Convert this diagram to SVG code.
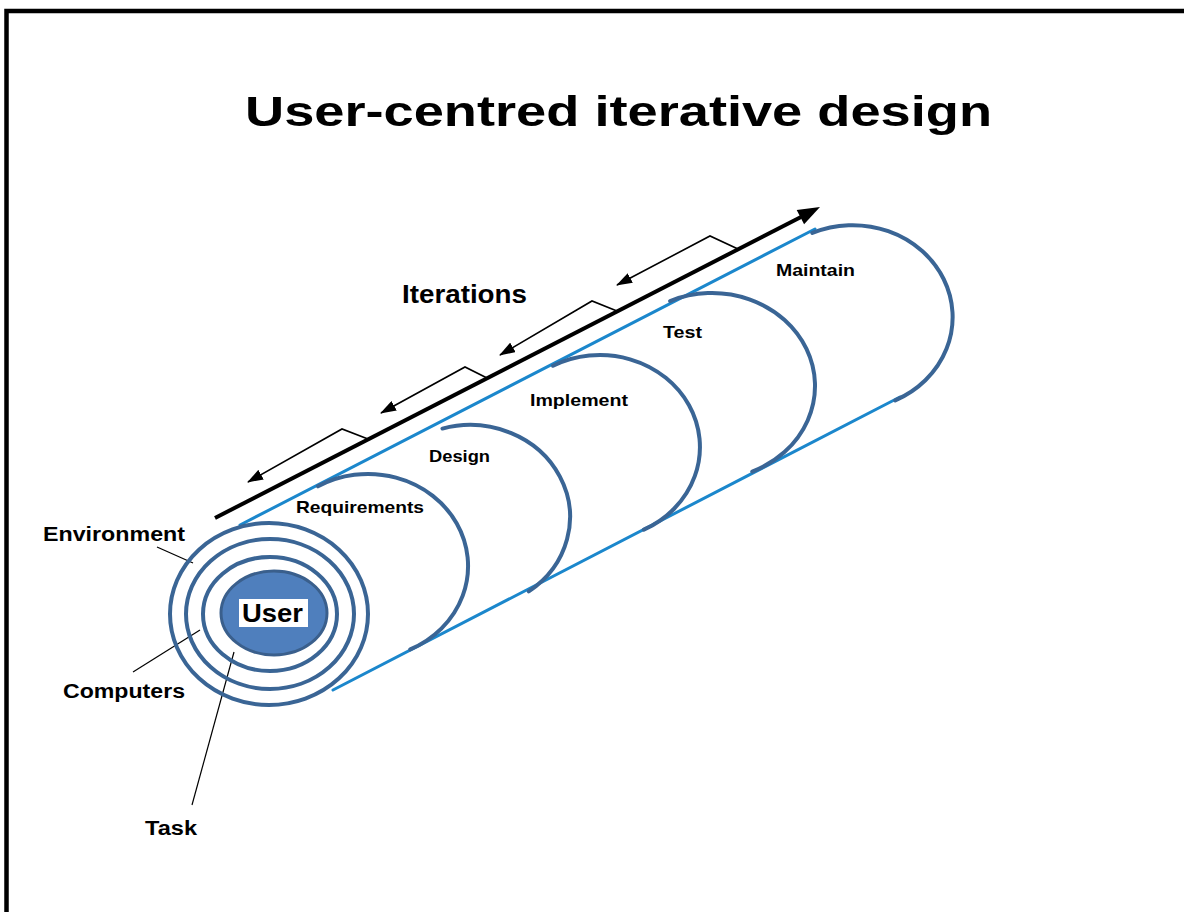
<svg xmlns="http://www.w3.org/2000/svg" width="1184" height="912" viewBox="0 0 1184 912">
  <defs>
    <style>
      .txt { font-family: "Liberation Sans", Arial, sans-serif; font-weight: bold; fill: #000; }
      .ring { fill: none; stroke: #3a6595; stroke-width: 4; }
      .arc { fill: none; stroke: #3a6595; stroke-width: 4; stroke-linecap: round; }
      .edge { stroke: #1b87cc; stroke-width: 3; fill: none; stroke-linecap: round; }
      .leader { stroke: #000; stroke-width: 1.2; fill: none; }
      .iter { stroke: #000; stroke-width: 1.6; fill: none; stroke-linejoin: miter; }
    </style>
    <marker id="smallHead" markerUnits="userSpaceOnUse" viewBox="0 0 16 11" refX="15" refY="5.5" markerWidth="16" markerHeight="11" orient="auto">
      <path d="M0,0 L16,5.5 L0,11 Z" fill="#000"/>
    </marker>
  </defs>

  <rect width="1184" height="912" fill="#fff"/>
  <!-- slide frame (right and bottom edges fall outside the canvas) -->
  <rect x="6.5" y="11" width="1200" height="1000" fill="none" stroke="#000" stroke-width="4.5"/>

  <text class="txt" x="245" y="126" font-size="43" textLength="747" lengthAdjust="spacingAndGlyphs">User-centred iterative design</text>

  <g id="connectors">
    <!-- main iterations axis -->
    <line x1="215" y1="518" x2="801" y2="217" stroke="#000" stroke-width="4"/>
    <polygon points="820,207 804.1,224.2 796.7,210" fill="#000"/>
    <!-- feedback arrows -->
    <path class="iter" d="M368,439 L342,429 L248,482" marker-end="url(#smallHead)"/>
    <path class="iter" d="M487,378 L465,367 L381,413" marker-end="url(#smallHead)"/>
    <path class="iter" d="M617,311 L592,301 L500,355" marker-end="url(#smallHead)"/>
    <path class="iter" d="M738,249 L710,236 L617,285" marker-end="url(#smallHead)"/>
    <!-- label leaders -->
    <line class="leader" x1="157" y1="547" x2="193" y2="563"/>
    <line class="leader" x1="133" y1="672" x2="200" y2="630"/>
    <line class="leader" x1="192" y1="805" x2="234" y2="652"/>
  </g>

  <g id="cylinder">
    <line class="edge" x1="240" y1="525" x2="815" y2="229"/>
    <line class="edge" x1="333" y1="690" x2="900" y2="397"/>
  </g>

  <g id="phase-requirements">
    <path class="arc" d="M318,486.33 A100,92 0 1 1 410.26,649.38"/>
    <text class="txt" x="296" y="513" font-size="17" textLength="128" lengthAdjust="spacingAndGlyphs">Requirements</text>
  </g>
  <g id="phase-design">
    <path class="arc" d="M442.44,428.56 A100,92 0 0 1 528.78,591.43"/>
    <text class="txt" x="429" y="462" font-size="17" textLength="61" lengthAdjust="spacingAndGlyphs">Design</text>
  </g>
  <g id="phase-implement">
    <path class="arc" d="M553.05,365.77 A100,92 0 1 1 643.84,529.69"/>
    <text class="txt" x="530" y="406" font-size="17" textLength="98" lengthAdjust="spacingAndGlyphs">Implement</text>
  </g>
  <g id="phase-test">
    <path class="arc" d="M670.11,301.04 A103,93 0 1 1 752.24,471.61"/>
    <text class="txt" x="663" y="338" font-size="17" textLength="39" lengthAdjust="spacingAndGlyphs">Test</text>
  </g>
  <g id="phase-maintain">
    <path class="arc" d="M812.33,232.96 A100,92 0 0 1 895.26,400.38"/>
    <text class="txt" x="776" y="276" font-size="17" textLength="79" lengthAdjust="spacingAndGlyphs">Maintain</text>
  </g>

  <g id="environment">
    <ellipse class="ring" cx="269" cy="614" rx="99" ry="91"/>
    <text class="txt" x="43" y="541" font-size="20" textLength="142" lengthAdjust="spacingAndGlyphs">Environment</text>
  </g>
  <g id="computers">
    <ellipse class="ring" cx="270" cy="614" rx="84" ry="75"/>
    <text class="txt" x="63" y="698" font-size="20" textLength="122" lengthAdjust="spacingAndGlyphs">Computers</text>
  </g>
  <g id="task">
    <ellipse class="ring" cx="270" cy="614" rx="67" ry="57"/>
    <text class="txt" x="145" y="835" font-size="20" textLength="52" lengthAdjust="spacingAndGlyphs">Task</text>
  </g>
  <g id="user">
    <ellipse cx="274" cy="613" rx="53" ry="42" fill="#4f7fbd" stroke="#3a5f8c" stroke-width="3"/>
    <rect x="239" y="599" width="69" height="28" fill="#fff"/>
    <text class="txt" x="242" y="622" font-size="26" textLength="61" lengthAdjust="spacingAndGlyphs">User</text>
  </g>

  <text class="txt" x="402" y="303" font-size="25" textLength="125" lengthAdjust="spacingAndGlyphs">Iterations</text>
</svg>
